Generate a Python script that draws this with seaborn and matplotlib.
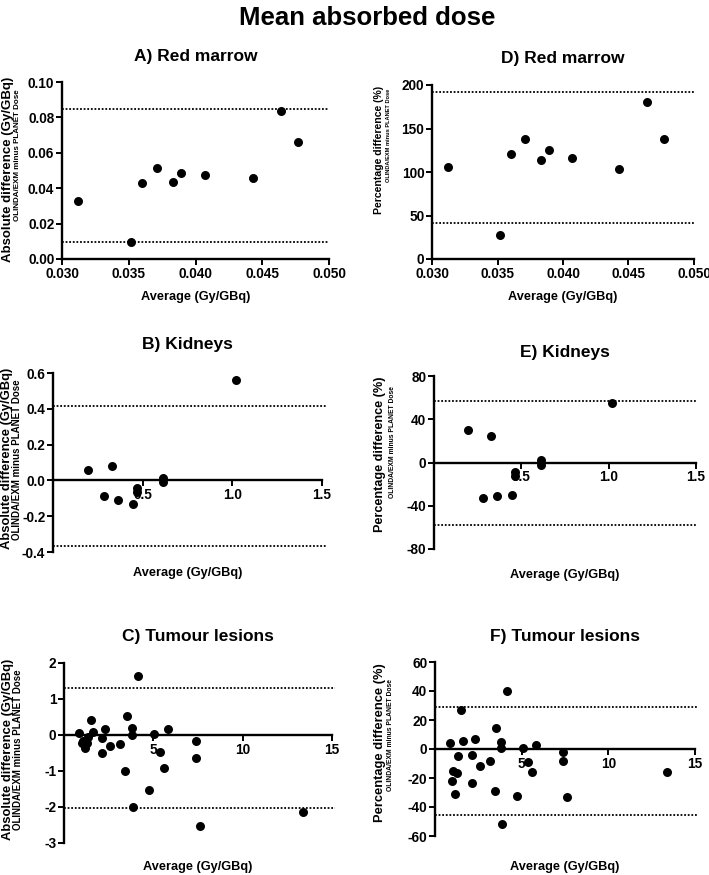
"""
Bland-Altman plots: mean absorbed dose, OLINDA/EXM vs PLANET Dose
"""

import matplotlib
matplotlib.use('Agg')
import matplotlib.pyplot as plt
import matplotlib.ticker as mticker
import seaborn as sns
import numpy as np

# ---- data ----
# red marrow (A, D)
rm_avg = [0.0312, 0.0352, 0.0360, 0.0371, 0.0383, 0.0389, 0.0407, 0.0443, 0.0464, 0.0477]
rm_abs = [0.033, 0.0098, 0.0432, 0.0512, 0.0435, 0.0484, 0.0472, 0.0460, 0.0835, 0.0660]
rm_pct = [105.7, 27.6, 120.3, 138.5, 114.0, 124.9, 116.1, 103.8, 180.1, 138.5]
rm_abs_loa = [0.0850, 0.0095]
rm_pct_loa = [192.3, 41.5]

# kidneys (B, E)
kid_avg = [0.196, 0.328, 0.283, 0.361, 0.447, 0.466, 0.466, 0.613, 0.615, 1.021]
kid_abs = [0.060, 0.080, -0.088, -0.112, -0.132, -0.041, -0.065, 0.012, -0.010, 0.559]
kid_pct = [29.8, 24.3, -32.6, -30.8, -30.2, -9.2, -12.9, 2.0, -2.0, 55.1]
kid_abs_loa = [0.4175, -0.365]
kid_pct_loa = [56.6, -57.5]

# tumour lesions (C, F)
tum_avg = [0.85, 0.98, 1.06, 1.15, 1.27, 1.35, 1.50, 1.60, 2.12, 2.12, 2.31, 2.58, 3.15, 3.44,
           3.52, 3.79, 3.79, 3.87, 4.13, 4.73, 5.06, 5.37, 5.62, 5.81, 7.38, 7.38, 7.62, 13.38]
tum_abs = [0.05, -0.21, -0.17, -0.37, -0.22, -0.05, 0.41, 0.09, -0.09, -0.49, 0.17, -0.30, -0.26, -0.99,
           0.53, 0.19, 0.01, -2.00, 1.64, -1.53, 0.03, -0.47, -0.91, 0.16, -0.17, -0.63, -2.52, -2.15]
tum_pct = [4.1, -22.3, -15.2, -31.3, -16.6, -4.8, 27.1, 5.7, -4.4, -23.4, 6.9, -11.7, -8.5, -28.7,
           14.7, 5.1, 0.7, -51.7, 40.0, -32.6, 0.9, -9.0, -16.1, 2.5, -2.1, -8.5, -32.9, -15.9]
tum_abs_loa = [1.30, -2.04]
tum_pct_loa = [29.2, -45.8]

sns.set_theme(style='ticks')
plt.rcParams['font.family'] = ['Liberation Sans', 'DejaVu Sans']
plt.rcParams['font.weight'] = 'bold'
plt.rcParams['axes.unicode_minus'] = False
plt.rcParams['text.color'] = 'black'
plt.rcParams['xtick.color'] = 'black'
plt.rcParams['ytick.color'] = 'black'
plt.rcParams['axes.labelcolor'] = 'black'

W, H = 709, 875
fig = plt.figure(figsize=(W / 100, H / 100), dpi=100)


def add_ax(l, r, t, b):
    return fig.add_axes([l / W, 1 - b / H, (r - l) / W, (b - t) / H])


def style_axes(ax, zero_axis):
    for s in ['top', 'right']:
        ax.spines[s].set_visible(False)
    for s in ['left', 'bottom']:
        ax.spines[s].set_linewidth(1.7)
        ax.spines[s].set_color('black')
    if zero_axis:
        ax.spines['bottom'].set_position(('data', 0))
        ax.spines['left'].set_position(('data', 0))
    ax.tick_params(axis='both', length=4, width=1.4, colors='black', labelsize=9.8, pad=1.5)
    for lab in ax.get_xticklabels() + ax.get_yticklabels():
        lab.set_fontweight('bold')
    ax.set_xlabel('')
    ax.set_ylabel('')


def panel(box, x, y, loa, title, title_y, xlim, ylim, xticks, yticks, xfmt, yfmt, zero_axis,
          xlabel_y, ylab, ylab_pos, small_pos, ylab_size, small_size, line_end=1.0):
    ax = add_ax(*box)
    sns.scatterplot(x=x, y=y, ax=ax, color='black', s=42, linewidth=0, zorder=3)
    for v in loa:
        ax.axhline(v, color='black', lw=1.3, ls=(0, (1, 1)), xmax=line_end, clip_on=False)
    ax.set_xlim(xlim)
    ax.set_ylim(ylim)
    ax.set_xticks(xticks)
    ax.set_yticks(yticks)
    ax.xaxis.set_major_formatter(mticker.FormatStrFormatter(xfmt))
    ax.yaxis.set_major_formatter(mticker.FormatStrFormatter(yfmt))
    style_axes(ax, zero_axis)
    cx = (box[0] + box[1]) / 2
    fig.text(cx / W, 1 - title_y / H, title, ha='center', va='center', fontsize=12.5, fontweight='bold')
    fig.text(cx / W, 1 - xlabel_y / H, 'Average (Gy/GBq)', ha='center', va='center',
             fontsize=9.2, fontweight='bold')
    fig.text(ylab_pos[0] / W, 1 - ylab_pos[1] / H, ylab, rotation=90, ha='center', va='center',
             fontsize=ylab_size, fontweight='bold')
    fig.text(small_pos[0] / W, 1 - small_pos[1] / H, 'OLINDA/EXM minus PLANET Dose', rotation=90,
             ha='center', va='center', fontsize=small_size, fontweight='bold')
    return ax


abs_lab = 'Absolute difference (Gy/GBq)'
pct_lab = 'Percentage difference (%)'

# A) red marrow, absolute
panel((62, 329, 82, 259), rm_avg, rm_abs, rm_abs_loa, 'A) Red marrow', 56,
      (0.030, 0.050), (0, 0.10), np.arange(0.030, 0.0501, 0.005), np.arange(0, 0.101, 0.02),
      '%.3f', '%.2f', False, 297, abs_lab, (8, 169), (18, 155), 9.5, 5.8)

# D) red marrow, percentage
panel((432, 694, 85, 259), rm_avg, rm_pct, rm_pct_loa, 'D) Red marrow', 59,
      (0.030, 0.050), (0, 200), np.arange(0.030, 0.0501, 0.005), np.arange(0, 201, 50),
      '%.3f', '%d', False, 297, pct_lab, (379, 150), (389, 135), 7.6, 4.1)

# B) kidneys, absolute
panel((53, 322, 373, 552), kid_avg, kid_abs, kid_abs_loa, 'B) Kidneys', 345,
      (0, 1.5), (-0.4, 0.6), [0.5, 1.0, 1.5], np.arange(-0.4, 0.61, 0.2),
      '%.1f', '%.1f', True, 573, abs_lab, (7, 458), (17, 460), 9.4, 7.0, 1.02)

# E) kidneys, percentage
panel((434, 696, 376, 549), kid_avg, kid_pct, kid_pct_loa, 'E) Kidneys', 353,
      (0, 1.5), (-80, 80), [0.5, 1.0, 1.5], np.arange(-80, 81, 40),
      '%.1f', '%d', True, 575, pct_lab, (380, 454), (392, 442), 9.1, 4.9)

# C) tumour lesions, absolute
panel((64, 332, 663, 843), tum_avg, tum_abs, tum_abs_loa, 'C) Tumour lesions', 636,
      (0, 15), (-3, 2), [5, 10, 15], np.arange(-3, 2.1, 1),
      '%d', '%d', True, 867, abs_lab, (8, 749), (18, 750), 9.4, 7.0, 1.01)

# F) tumour lesions, percentage
panel((435, 695, 662, 836), tum_avg, tum_pct, tum_pct_loa, 'F) Tumour lesions', 636,
      (0, 15), (-60, 60), [5, 10, 15], np.arange(-60, 61, 20),
      '%d', '%d', True, 867, pct_lab, (380, 743), (390, 735), 9.3, 4.9, 1.01)

fig.text(367 / W, 1 - 18 / H, 'Mean absorbed dose', ha='center', va='center', fontsize=18.5,
         fontweight='bold')

fig.savefig('out.png', dpi=100)
plt.close(fig)
